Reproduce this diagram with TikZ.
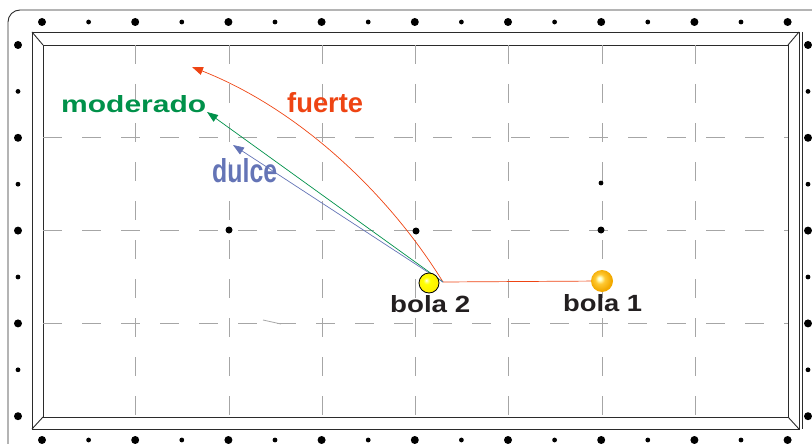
\documentclass[tikz,border=0pt]{standalone}
\usepackage{fontspec}
\setmainfont{Liberation Sans}
\usepackage{graphicx}
\usetikzlibrary{arrows.meta}
\definecolor{fuertec}{HTML}{EE4413}
\definecolor{moderc}{HTML}{00914A}
\definecolor{dulcec}{HTML}{6474B6}
\definecolor{bolatxt}{HTML}{231F20}
\definecolor{gridc}{HTML}{A6A6A6}
\definecolor{railc}{HTML}{2B2B2B}
\definecolor{oro}{HTML}{FFC933}
\definecolor{orobajo}{HTML}{F2A900}
\newcommand{\etqbox}[3]{\resizebox{#1pt}{#2pt}{\bfseries #3}}
\pgfdeclareradialshading{bolados}{\pgfpoint{-7bp}{7bp}}{color(0bp)=(white); color(3bp)=(yellow!45); color(9bp)=(yellow); color(25bp)=(yellow!88!orange); color(50bp)=(yellow!88!orange)}
\pgfdeclareradialshading{bolauno}{\pgfpoint{-6bp}{6bp}}{color(0bp)=(white); color(4bp)=(yellow!25!white); color(11bp)=(oro); color(24bp)=(orobajo); color(50bp)=(orobajo)}

\begin{document}
\begin{tikzpicture}[x=1pt, y=-1pt,
      rail/.style={draw=railc, line width=0.9pt},
      cuad/.style={draw=gridc, line width=0.8pt, dash pattern=on 19pt off 20pt},
      etq/.style={inner sep=0pt, anchor=base west},
      tiro/.style={-{Triangle[length=11pt, width=8pt]}, line width=0.7pt}
  ]
    \useasboundingbox (0,0) rectangle (812,444);
    % rail and cushions
    \draw[rail, rounded corners=12pt] (8,10) rectangle (830,462);
    \draw[rail] (32,32) rectangle (799,429);
    \draw[rail] (43,45) rectangle (788,417);
    \draw[rail] (32,32) -- (43,45) (799,32) -- (788,45)
                (32,429) -- (43,417) (799,429) -- (788,417);
    \draw[rail] (802,32) -- (802,429);
    % diamonds
    \foreach \k in {0,...,8} {
      \fill ({42+93.2*\k},22) circle (4pt);
      \fill ({42+93.2*\k},440) circle (4pt);
    }
    \foreach \k in {0,...,7} {
      \fill ({88.6+93.2*\k},22) circle (2.4pt);
      \fill ({88.6+93.2*\k},440) circle (2.4pt);
    }
    \foreach \k in {0,...,4} {
      \fill (18,{45+92.8*\k}) circle (4pt);
      \fill (808,{45+92.8*\k}) circle (4pt);
    }
    \foreach \k in {0,...,3} {
      \fill (18,{91.4+92.8*\k}) circle (2.4pt);
      \fill (808,{91.4+92.8*\k}) circle (2.4pt);
    }
    % grid
    \foreach \x in {135,229,322,415,508,602,695}
      \draw[cuad] (\x,45) -- (\x,417);
    \foreach \y in {137,230,323}
      \draw[cuad] (43,\y) -- (788,\y);
    \draw[gridc, line width=0.8pt] (263,320) -- (281,324);
    % spots
    \fill (229,230) circle (3.5pt);
    \fill (416,231) circle (3.5pt);
    \fill (601,230) circle (3.5pt);
    \fill (601,183) circle (2.4pt);
    % labels
    \node[etq, text=fuertec] (fu) at (287,113) {\etqbox{76}{20}{fuerte}};
    \node[etq, text=moderc] (mo) at (61,113) {\etqbox{145}{17}{moderado}};
    \node[etq, text=dulcec] (du) at (212,182) {\etqbox{65}{24}{dulce}};
    \node[etq, text=bolatxt] (l2) at (390,312) {\etqbox{80}{17}{bola 2}};
    \node[etq, text=bolatxt] (l1) at (563,311) {\etqbox{79}{17}{bola 1}};
    % shots
    \coordinate (hit) at (443,282);
    \coordinate (fuTip) at (192,67);
    \coordinate (moTip) at (207,112);
    \coordinate (duTip) at (233,145);
    \node[circle, minimum size=22pt, inner sep=0pt, shading=bolauno] (b1) at (602,281) {};
    \draw[fuertec, line width=0.7pt] (hit) -- (b1);
    \draw[tiro, fuertec] (hit) .. controls (385,188) and (294,107) .. (fuTip);
    \draw[tiro, moderc] (hit) -- (moTip);
    \draw[tiro, dulcec] (hit) -- (duTip);
    \node[circle, draw=black, line width=0.8pt, minimum size=20pt, inner sep=0pt,
          shading=bolados] (b2) at (429,283) {};
  \end{tikzpicture}
\end{document}
